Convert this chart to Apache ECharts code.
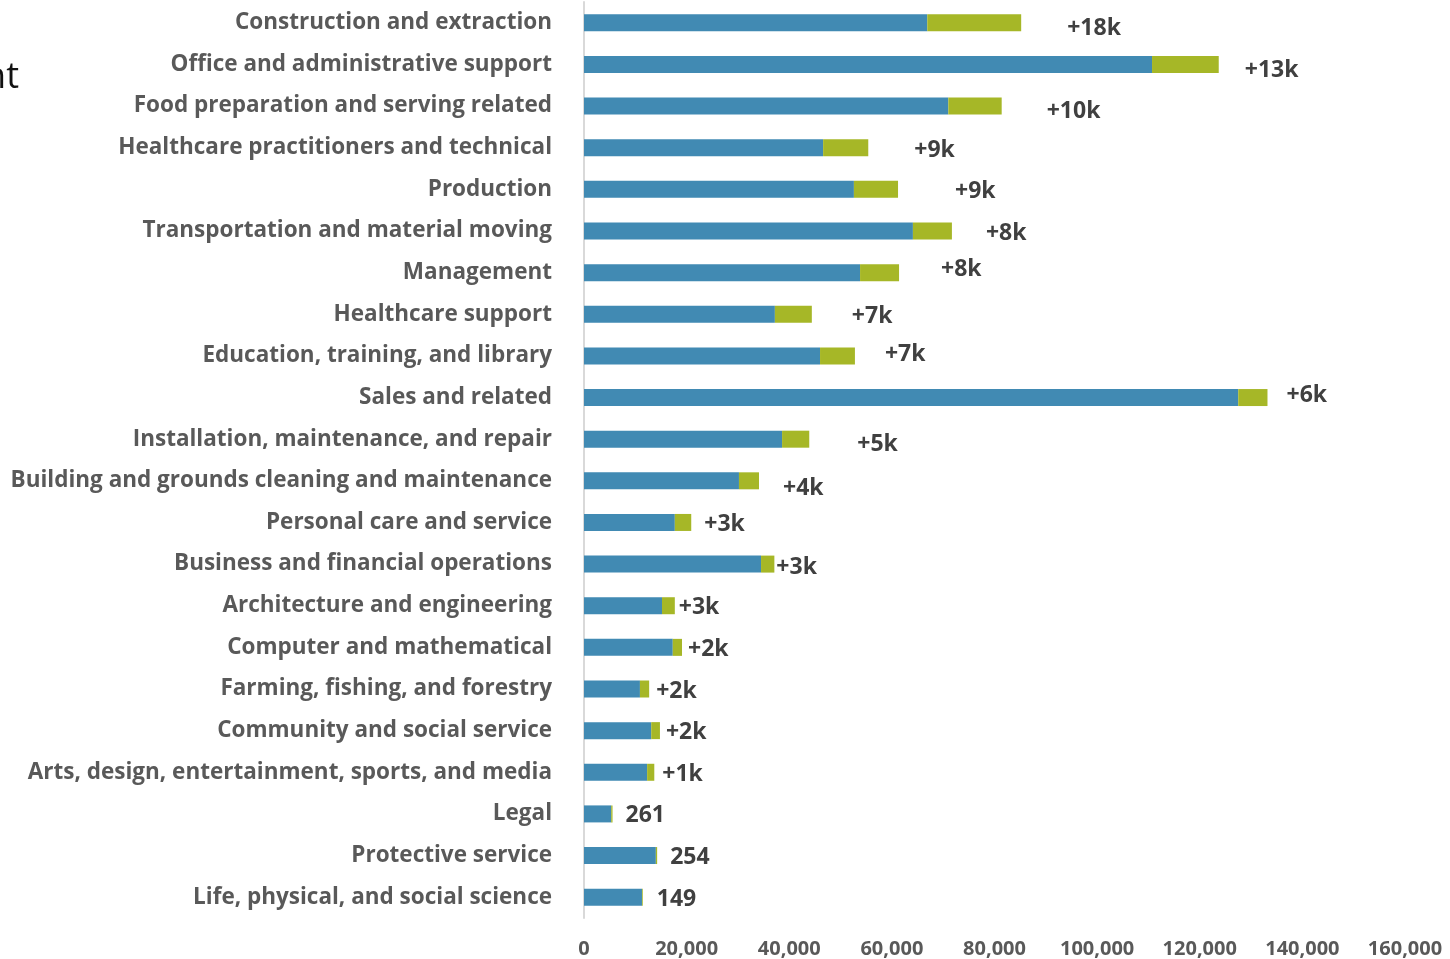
<!DOCTYPE html>
<html>
<head>
<meta charset="utf-8">
<script src="https://cdn.jsdelivr.net/npm/echarts@6/dist/echarts.min.js"></script>
<style>
html,body{margin:0;padding:0;background:#fff;}
#chart{width:1450px;height:959px;}
</style>
</head>
<body>
<div id="chart"></div>
<script>
// ---- data ----
var categories = [
  "Construction and extraction",
  "Office and administrative support",
  "Food preparation and serving related",
  "Healthcare practitioners and technical",
  "Production",
  "Transportation and material moving",
  "Management",
  "Healthcare support",
  "Education, training, and library",
  "Sales and related",
  "Installation, maintenance, and repair",
  "Building and grounds cleaning and maintenance",
  "Personal care and service",
  "Business and financial operations",
  "Architecture and engineering",
  "Computer and mathematical",
  "Farming, fishing, and forestry",
  "Community and social service",
  "Arts, design, entertainment, sports, and media",
  "Legal",
  "Protective service",
  "Life, physical, and social science"
];
var baseValues = [
  66900, 110700, 71000, 46600, 52600, 64100, 53800, 37200, 46000, 127500, 38600,
  30200, 17700, 34500, 15200, 17300, 10900, 13100, 12300, 5300, 14000, 11300
];
var growthValues = [
  18300, 13000, 10400, 8800, 8600, 7600, 7600, 7200, 6800, 5700, 5300,
  3900, 3200, 2600, 2500, 1800, 1800, 1700, 1400, 261, 254, 149
];
var growthLabels = [
  "+18k", "+13k", "+10k", "+9k", "+9k", "+8k", "+8k", "+7k", "+7k", "+6k", "+5k",
  "+4k", "+3k", "+3k", "+3k", "+2k", "+2k", "+2k", "+1k", "261", "254", "149"
];
var xTicks = { min: 0, max: 160000, interval: 20000 };

// ---- style: label nudges (gap to bar end, vertical shift) ----
var labelNudge = [
  [46,6],[26,6],[45,5],[46,3],[57,2],[34,2],[42,-3],[40,2],[30,-1],[19,-2],[48,5],
  [24,8],[13,2],[2,3],[4,2],[6,2],[7,2],[6,2],[8,2],[13,2],[13,2],[14,2]
];

var growthData = growthValues.map(function (v, i) {
  return {
    value: v,
    label: {
      offset: [labelNudge[i][0], labelNudge[i][1]],
      formatter: growthLabels[i]
    }
  };
});

var chart = echarts.init(document.getElementById('chart'));
chart.setOption({
  animation: false,
  backgroundColor: '#ffffff',
  grid: { left: 584, right: 45, top: 2, bottom: 41, containLabel: false, outerBoundsMode: 'none' },
  xAxis: {
    type: 'value',
    min: xTicks.min, max: xTicks.max, interval: xTicks.interval,
    axisLine: { show: false },
    axisTick: { show: false },
    splitLine: { show: false },
    axisLabel: {
      margin: 21,
      color: '#595959',
      fontFamily: 'Open Sans',
      fontWeight: 'bold',
      fontSize: 20
    }
  },
  yAxis: {
    type: 'category',
    inverse: true,
    data: categories,
    axisLine: { show: true, lineStyle: { color: '#D9D9D9', width: 2 } },
    axisTick: { show: false },
    axisLabel: {
      margin: 32,
      color: '#595959',
      fontFamily: 'Open Sans',
      fontWeight: 'bold',
      fontSize: 22.5
    }
  },
  series: [
    {
      type: 'bar', stack: 'jobs', name: 'Base',
      data: baseValues,
      barWidth: 17,
      itemStyle: { color: '#418AB3' }
    },
    {
      type: 'bar', stack: 'jobs', name: 'Growth',
      data: growthData,
      barWidth: 17,
      itemStyle: { color: '#A6B727' },
      label: {
        show: true,
        position: 'right',
        distance: 0,
        color: '#404040',
        fontFamily: 'Open Sans',
        fontWeight: 'bold',
        fontSize: 23
      }
    }
  ],
  graphic: [
    {
      type: 'text',
      right: 1431,
      top: 60,
      style: {
        text: 'nt',
        fill: '#111111',
        font: '36px "Open Sans"'
      }
    }
  ]
});
</script>
</body>
</html>
